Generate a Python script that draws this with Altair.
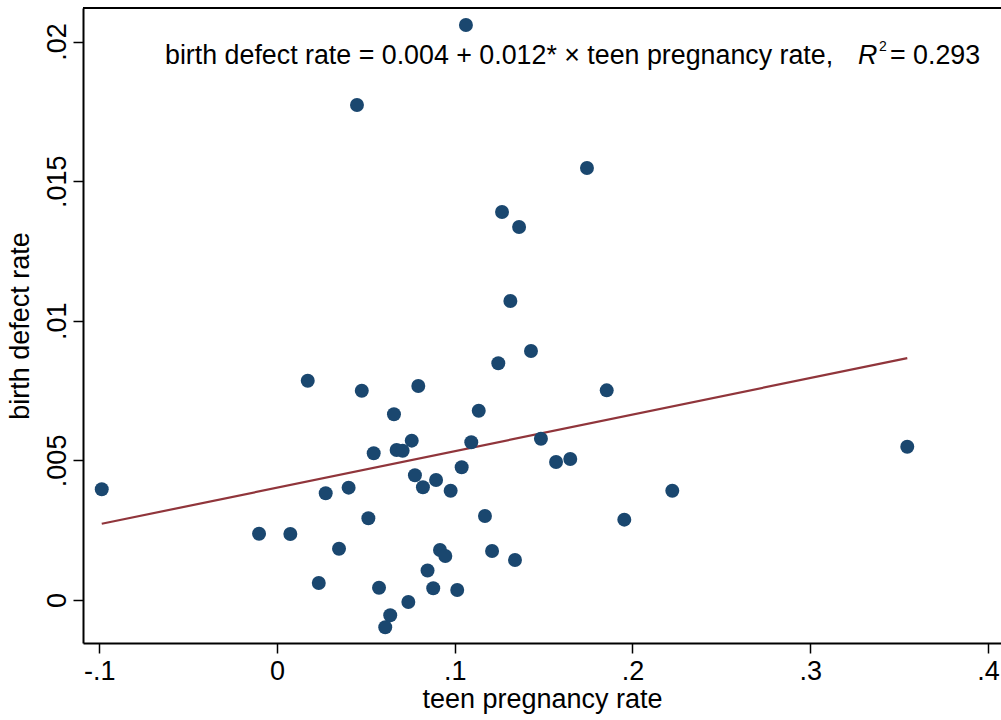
import altair as alt
import pandas as pd

# Data
teen_rate = [-0.0986, -0.0101, 0.0075, 0.0173, 0.0235, 0.0274, 0.0349, 0.0403, 0.0450, 0.0477,
             0.0514, 0.0544, 0.0574, 0.0609, 0.0637, 0.0658, 0.0673, 0.0707, 0.0739, 0.0758,
             0.0776, 0.0795, 0.0821, 0.0847, 0.0879, 0.0895, 0.0917, 0.0947, 0.0977, 0.1014,
             0.1039, 0.1063, 0.1093, 0.1135, 0.1170, 0.1210, 0.1245, 0.1266, 0.1313, 0.1339,
             0.1362, 0.1429, 0.1485, 0.1570, 0.1650, 0.1744, 0.1855, 0.1954, 0.2224, 0.3546]
defect_rate = [0.003964, 0.002374, 0.002363, 0.007853, 0.000609, 0.003821, 0.001837, 0.004022, 0.017726, 0.007495,
               0.002926, 0.005253, 0.000440, -0.000978, -0.000548, 0.006650, 0.005372, 0.005346, -0.000072, 0.005705,
               0.004466, 0.007663, 0.004036, 0.001056, 0.000419, 0.004297, 0.001791, 0.001576, 0.003914, 0.000358,
               0.004752, 0.020591, 0.005647, 0.006779, 0.003008, 0.001755, 0.008476, 0.013894, 0.010707, 0.001432,
               0.013357, 0.008917, 0.005776, 0.004942, 0.005049, 0.015470, 0.007509, 0.002876, 0.003914, 0.005490]
fit_intercept = 0.00402
fit_slope = 0.01309

x_ticks = [-0.1, 0.0, 0.1, 0.2, 0.3, 0.4]
y_ticks = [0.0, 0.005, 0.01, 0.015, 0.02]

eq_text = ["birth defect rate = 0.004 + 0.012* \u00d7 teen pregnancy rate,"]
r_text = ["R"]
sup_text = ["2"]
r2_text = ["= 0.293"]

df = pd.DataFrame({"teen": teen_rate, "defect": defect_rate})
x0, x1 = min(teen_rate), max(teen_rate)
fit = pd.DataFrame({"teen": [x0, x1],
                    "defect": [fit_intercept + fit_slope * x0, fit_intercept + fit_slope * x1]})

W, H = 918, 635
FONT = "Liberation Sans"
FS = 27
TFS = 26.8

xscale = alt.Scale(domain=[-0.10915, 0.40734], nice=False, zero=False)
yscale = alt.Scale(domain=[-0.00154, 0.02120], nice=False, zero=False)

lab_expr = ("datum.value == 0 ? '0' : "
            "replace(replace(format(datum.value, '~g'), '\u2212', '-'), '0.', '.')")

xaxis = alt.Axis(values=x_ticks, labelExpr=lab_expr, title="teen pregnancy rate", grid=False,
                 tickSize=10, tickWidth=1.5, tickColor="black", domainColor="black", domainWidth=2,
                 labelFontSize=FS, labelFont=FONT, labelColor="black", labelPadding=5,
                 titleFontSize=FS, titleFont=FONT, titleColor="black", titleFontWeight="normal",
                 titlePadding=2, labelFlush=False, labelOverlap=False)
yaxis = alt.Axis(values=y_ticks, labelExpr=lab_expr, title="birth defect rate", grid=False,
                 tickSize=10, tickWidth=1.5, tickColor="black", domainColor="black", domainWidth=2,
                 labelFontSize=FS, labelFont=FONT, labelColor="black", labelPadding=2,
                 labelAngle=270, labelAlign="center", labelBaseline="bottom",
                 titleFontSize=FS, titleFont=FONT, titleColor="black", titleFontWeight="normal",
                 titlePadding=9, labelFlush=False, labelOverlap=False)

points = alt.Chart(df).mark_circle(size=195, color="#1a476f", opacity=1).encode(
    x=alt.X("teen:Q", scale=xscale, axis=xaxis),
    y=alt.Y("defect:Q", scale=yscale, axis=yaxis),
)

line = alt.Chart(fit).mark_line(color="#90353b", strokeWidth=2.2).encode(
    x=alt.X("teen:Q", scale=xscale),
    y=alt.Y("defect:Q", scale=yscale),
)

top_border = alt.Chart(pd.DataFrame({"a": [0]})).mark_rule(color="black", strokeWidth=2).encode(
    x=alt.value(0), x2=alt.value(W), y=alt.value(0)
)

def txt(data, x, y, size=TFS, style="normal"):
    return alt.Chart(pd.DataFrame({"t": data})).mark_text(
        align="left", baseline="alphabetic", font=FONT, fontSize=size, fontStyle=style, color="black"
    ).encode(x=alt.value(x), y=alt.value(y), text="t:N")

eq = txt(eq_text, 82, 56)
r = txt(r_text, 775, 56, style="italic")
sup = txt(sup_text, 796, 43, size=14)
r2 = txt(r2_text, 807, 56)

chart = alt.layer(line, points, top_border, eq, r, sup, r2).properties(
    width=W, height=H,
    padding={"left": 83, "top": 8, "right": 0, "bottom": 77},
    autosize=alt.AutoSizeParams(type="none"),
    background="white",
).configure_view(stroke=None)

chart.save("out.html", embed_options={"renderer": "svg", "actions": False})
